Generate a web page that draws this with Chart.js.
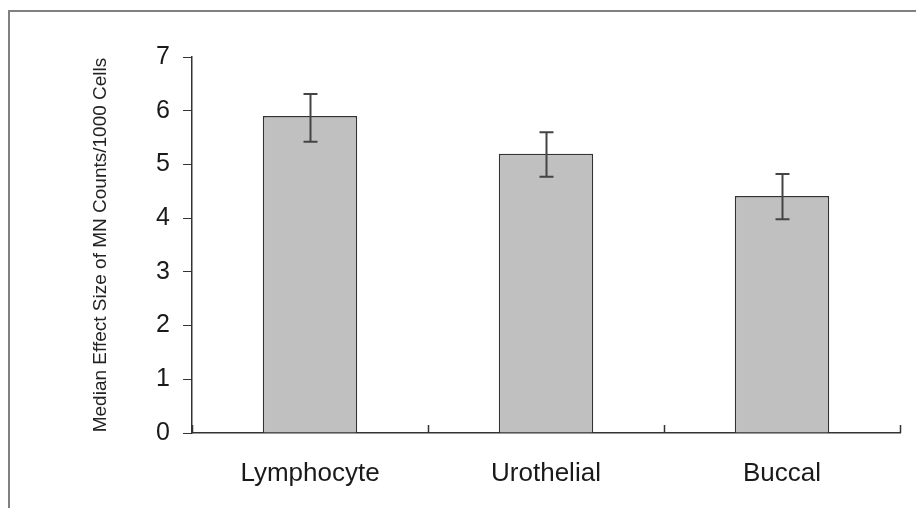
<!DOCTYPE html>
<html>
<head>
<meta charset="utf-8">
<script src="https://cdn.jsdelivr.net/npm/chart.js@4.4.1/dist/chart.umd.min.js"></script>
<style>
  html, body { margin: 0; padding: 0; background: #fff; }
  #wrap { width: 916px; height: 508px; }
</style>
</head>
<body>
<div id="wrap"><canvas id="chart" width="916" height="508"></canvas></div>
<script>
// data
var categories = ['Lymphocyte', 'Urothelial', 'Buccal'];
var medians    = [5.90, 5.20, 4.41];
var errHigh    = [6.31, 5.60, 4.82];
var errLow     = [5.42, 4.77, 3.98];
var yTicks     = [0, 1, 2, 3, 4, 5, 6, 7];

// error bars, drawn through the y scale
var errorBars = {
  id: 'errorBars',
  afterDatasetsDraw: function(chart) {
    var ctx = chart.ctx;
    var y = chart.scales.y;
    var meta = chart.getDatasetMeta(0);
    ctx.save();
    ctx.strokeStyle = '#444';
    ctx.lineWidth = 2;
    meta.data.forEach(function(bar, i) {
      var x = Math.round(bar.x) + 0.5;
      var top = y.getPixelForValue(errHigh[i]);
      var bot = y.getPixelForValue(errLow[i]);
      ctx.beginPath();
      ctx.moveTo(x, top); ctx.lineTo(x, bot);
      ctx.moveTo(x - 7, top); ctx.lineTo(x + 7, top);
      ctx.moveTo(x - 7, bot); ctx.lineTo(x + 7, bot);
      ctx.stroke();
    });
    ctx.restore();
  }
};

// x tick marks point up into the plot, at the category boundaries
var xTicksUp = {
  id: 'xTicksUp',
  afterDraw: function(chart) {
    var ctx = chart.ctx;
    var x = chart.scales.x;
    var base = chart.chartArea.bottom;
    var step = x.getPixelForValue(1) - x.getPixelForValue(0);
    ctx.save();
    ctx.strokeStyle = '#333';
    ctx.lineWidth = 1.5;
    ctx.beginPath();
    for (var i = 0; i <= categories.length; i++) {
      var px = Math.round(x.getPixelForValue(i) - step / 2) + 0.5;
      ctx.moveTo(px, base);
      ctx.lineTo(px, base - 8);
    }
    ctx.stroke();
    ctx.restore();
  }
};

// outer frame (left + top only, like the source image)
var frame = {
  id: 'frame',
  afterDraw: function(chart) {
    var ctx = chart.ctx;
    ctx.save();
    ctx.strokeStyle = '#808080';
    ctx.lineWidth = 2;
    ctx.beginPath();
    ctx.moveTo(9, chart.height);
    ctx.lineTo(9, 11);
    ctx.lineTo(chart.width, 11);
    ctx.stroke();
    ctx.restore();
  }
};

var ctx = document.getElementById('chart').getContext('2d');
var chart = new Chart(ctx, {
  type: 'bar',
  data: {
    labels: categories,
    datasets: [{
      data: medians,
      backgroundColor: '#c0c0c0',
      borderColor: '#333',
      borderWidth: 1.5,
      categoryPercentage: 1,
      barPercentage: 0.4
    }]
  },
  options: {
    responsive: false,
    animation: false,
    devicePixelRatio: 1,
    layout: { padding: { left: 0, right: 16, top: 57, bottom: 0 } },
    plugins: { legend: { display: false }, tooltip: { enabled: false } },
    scales: {
      x: {
        grid: { display: false },
        border: { display: true, color: '#333', width: 1.5 },
        ticks: { color: '#1a1a1a', font: { family: 'Liberation Sans, Arial', size: 26 }, padding: 17 },
        afterFit: function(s) { s.height = 75; }
      },
      y: {
        min: 0, max: 7,
        afterBuildTicks: function(s) { s.ticks = yTicks.map(function(v) { return { value: v }; }); },
        grid: { display: true, drawOnChartArea: false, drawTicks: true, tickLength: 9, color: '#333' },
        border: { display: true, color: '#333', width: 1.5 },
        ticks: { color: '#1a1a1a', font: { family: 'Liberation Sans, Arial', size: 25 }, padding: 13 },
        title: {
          display: true,
          text: 'Median Effect Size of MN Counts/1000 Cells',
          color: '#222',
          font: { family: 'Liberation Sans, Arial', size: 19 },
          padding: { top: 89, bottom: 0 }
        },
        afterFit: function(s) { s.width = 192; }
      }
    }
  },
  plugins: [errorBars, xTicksUp, frame]
});
</script>
</body>
</html>
